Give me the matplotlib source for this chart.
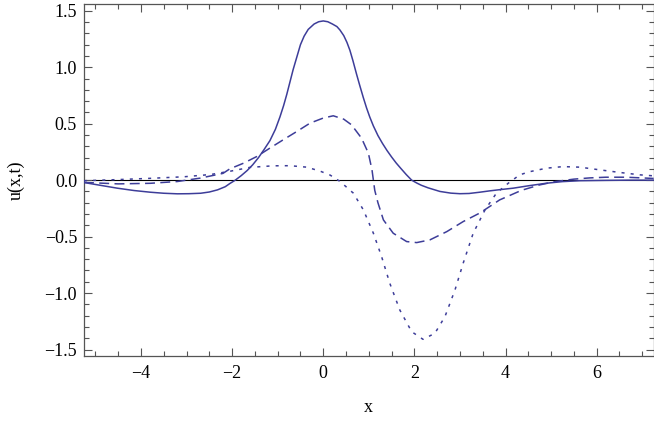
import numpy as np
import matplotlib
matplotlib.use("Agg")
import matplotlib.pyplot as plt
from matplotlib.ticker import MultipleLocator

# values
x_solid = [-5.25, -4.9, -4.52, -4.15, -3.79, -3.5, -3.2, -2.95, -2.69, -2.5, -2.32, -2.15, -2.05,
           -1.93, -1.8, -1.67, -1.55, -1.42, -1.3, -1.17, -1.05, -0.95, -0.87, -0.8, -0.73,
           -0.66, -0.58, -0.5, -0.42, -0.33, -0.2, -0.1, 0.0, 0.1, 0.2, 0.3, 0.366, 0.45,
           0.52, 0.585, 0.65, 0.73, 0.8, 0.88, 0.95, 1.02, 1.1, 1.2, 1.3, 1.4, 1.5, 1.6,
           1.7, 1.82, 1.94, 2.05, 2.15, 2.3, 2.56, 2.8, 3.0, 3.2, 3.43, 3.65, 3.9, 4.17,
           4.5, 4.9, 5.25, 5.63, 6.2, 6.7, 7.25]
y_solid = [-0.021, -0.045, -0.071, -0.092, -0.107, -0.116, -0.121, -0.12, -0.116, -0.105, -0.086, -0.058, -0.03,
           0.0, 0.04, 0.085, 0.135, 0.2, 0.27, 0.35, 0.45, 0.56, 0.66, 0.76, 0.87,
           0.98, 1.09, 1.2, 1.275, 1.335, 1.383, 1.403, 1.41, 1.403, 1.383, 1.36, 1.33, 1.28,
           1.22, 1.15, 1.06, 0.94, 0.84, 0.73, 0.64, 0.56, 0.48, 0.395, 0.325, 0.262, 0.205, 0.152,
           0.105, 0.05, 0.0, -0.025, -0.045, -0.068, -0.1, -0.115, -0.12, -0.118, -0.107, -0.095, -0.083, -0.071,
           -0.05, -0.027, -0.013, -0.005, -0.002, 0.0, 0.0]

x_dashed = [-5.25, -4.5, -3.8, -3.2, -2.7, -2.2, -2.05, -1.75, -1.46, -1.17, -0.88, -0.58,
            -0.29, 0.0, 0.22, 0.45, 0.62, 0.84, 0.99, 1.07, 1.13, 1.2, 1.32, 1.535, 1.83,
            2.05, 2.34, 2.71, 3.07, 3.44, 3.87, 4.35, 4.75, 5.1, 5.5, 5.85, 6.2, 6.65, 7.09, 7.25]
y_dashed = [-0.02, -0.033, -0.028, -0.012, 0.018, 0.06, 0.1, 0.15, 0.209, 0.284, 0.357, 0.431,
            0.505, 0.55, 0.57, 0.54, 0.49, 0.372, 0.239, 0.09, -0.09, -0.2, -0.352, -0.47, -0.544,
            -0.553, -0.529, -0.456, -0.367, -0.29, -0.175, -0.09, -0.042, -0.012, 0.009, 0.02, 0.026, 0.026, 0.018, 0.015]

x_dotted = [-5.25, -4.5, -3.8, -3.05, -2.47, -2.03, -1.61, -1.1, -0.73, -0.36, -0.07, 0.15,
            0.37, 0.66, 0.88, 1.10, 1.28, 1.46, 1.68, 1.94, 2.19, 2.45, 2.67, 2.89, 3.07,
            3.29, 3.55, 3.80, 4.06, 4.31, 4.53, 4.9, 5.26, 5.63, 6.07, 6.51, 6.95, 7.25]
y_dotted = [-0.005, 0.005, 0.016, 0.03, 0.05, 0.08, 0.113, 0.127, 0.128, 0.115, 0.08, 0.045,
            -0.012, -0.115, -0.263, -0.47, -0.677, -0.913, -1.15, -1.342, -1.41, -1.356, -1.209, -0.973, -0.736,
            -0.47, -0.263, -0.115, -0.027, 0.047, 0.075, 0.106, 0.12, 0.115, 0.091, 0.068, 0.047, 0.038]

line_color = "#3d3d99"
frame_color = "#555555"

plt.rcParams["font.family"] = ["Liberation Serif", "DejaVu Serif"]

fig = plt.figure(figsize=(6.54, 4.22), dpi=100)
ax = fig.add_axes([0.1284, 0.1557, 0.8711, 0.8348])

ax.axhline(0, color="black", lw=0.8, zorder=1)
ax.plot(x_solid, y_solid, color=line_color, lw=1.1, zorder=3)
ax.plot(x_dashed, y_dashed, color=line_color, lw=1.1, dashes=(6.5, 3.5), zorder=3)
ax.plot(x_dotted, y_dotted, color=line_color, lw=1.1, dashes=(2, 4), zorder=3)

ax.set_xlim(-5.25, 7.25)
ax.set_ylim(-1.56, 1.56)

ax.xaxis.set_major_locator(MultipleLocator(2))
ax.xaxis.set_minor_locator(MultipleLocator(0.5))
ax.yaxis.set_major_locator(MultipleLocator(0.5))
ax.yaxis.set_minor_locator(MultipleLocator(0.1))
ax.yaxis.set_major_formatter(plt.FuncFormatter(lambda v, p: f"{v:.1f}".replace("-", "\u2212")))
ax.xaxis.set_major_formatter(plt.FuncFormatter(lambda v, p: f"{v:.0f}".replace("-", "\u2212")))

ax.tick_params(which="both", direction="in", top=True, right=True, color=frame_color,
               width=0.8, labelsize=13, labelcolor="black")
ax.tick_params(which="major", length=6)
ax.tick_params(which="minor", length=3.5)
ax.tick_params(axis="x", which="major", pad=6.5)
ax.tick_params(axis="y", which="major", pad=5)

for s in ax.spines.values():
    s.set_color(frame_color)
    s.set_linewidth(0.9)

ax.set_xlabel("x", fontsize=13, labelpad=12)
ax.set_ylabel("u(x,t)", fontsize=13, labelpad=14)

fig.savefig("out.png", dpi=100)
